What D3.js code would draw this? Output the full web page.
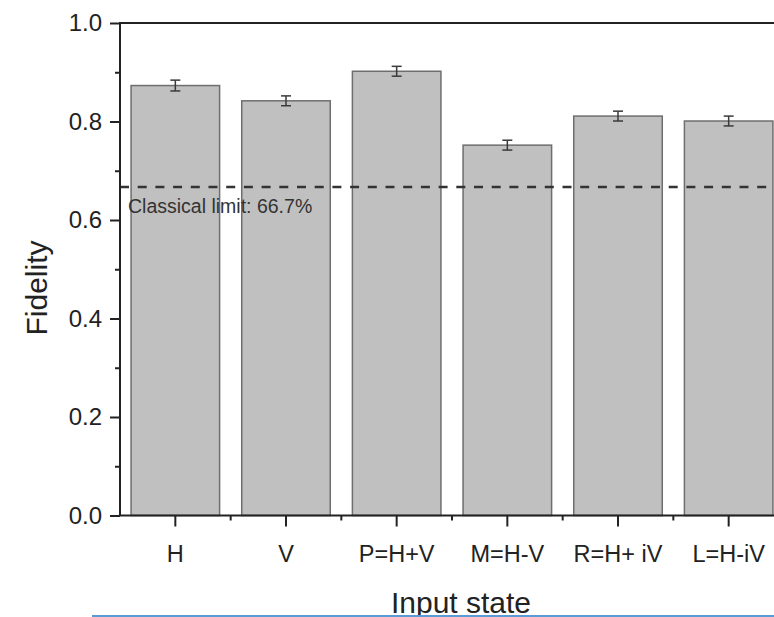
<!DOCTYPE html>
<html>
<head>
<meta charset="utf-8">
<script src="https://cdnjs.cloudflare.com/ajax/libs/d3/7.8.5/d3.min.js"></script>
<style>
  html, body { margin: 0; padding: 0; background: #fff; }
  svg { display: block; font-family: "Liberation Sans", Arial, sans-serif; }
</style>
</head>
<body>
<div id="chart"></div>
<script>
'use strict'

// data
var categories = ['H', 'V', 'P=H+V', 'M=H-V', 'R=H+ iV', 'L=H-iV']
var fidelity = [0.873, 0.842, 0.902, 0.752, 0.811, 0.801]
var fidelityErr = [0.011, 0.010, 0.010, 0.010, 0.010, 0.010]
var yTicks = [0, 0.2, 0.4, 0.6, 0.8, 1.0]
var yMinorTicks = [0.1, 0.3, 0.5, 0.7, 0.9]
var classicalLimit = 0.667

////////////////////////////////////
//////////// svg setup /////////////
////////////////////////////////////

var svgWidth = 774
var svgHeight = 617

var plot = { left: 120, top: 23, bottom: 515.5, right: 784 }

var svg = d3.select('#chart')
    .append('svg')
    .attr('width', svgWidth)
    .attr('height', svgHeight)

////////////////////////////////////
//////////////scales////////////////
////////////////////////////////////

var xScale = d3.scaleBand()
    .domain(categories)
    .range([plot.left, plot.right])
    .paddingInner(0.2)
    .paddingOuter(0.1)

var yScale = d3.scaleLinear()
    .domain([0, 1])
    .range([plot.bottom, plot.top])

var step = xScale.step()

// bars
svg.selectAll('.bar')
    .data(categories)
    .enter()
    .append('rect')
    .attr('class', 'bar')
    .attr('x', function(d) { return xScale(d) })
    .attr('y', function(d, i) { return yScale(fidelity[i]) })
    .attr('width', xScale.bandwidth())
    .attr('height', function(d, i) { return yScale(0) - yScale(fidelity[i]) })
    .attr('fill', '#c0c0c0')
    .attr('stroke', '#6e6e6e')
    .attr('stroke-width', 1.5)

// error bars
var err = svg.selectAll('.err')
    .data(categories)
    .enter()
    .append('g')
    .attr('class', 'err')
    .attr('stroke', '#3a3a3a')
    .attr('stroke-width', 1.5)

err.append('line')
    .attr('x1', function(d) { return xScale(d) + xScale.bandwidth() / 2 })
    .attr('x2', function(d) { return xScale(d) + xScale.bandwidth() / 2 })
    .attr('y1', function(d, i) { return yScale(fidelity[i] - fidelityErr[i]) })
    .attr('y2', function(d, i) { return yScale(fidelity[i] + fidelityErr[i]) })

err.selectAll('.cap')
    .data(function(d, i) {
        var cx = xScale(d) + xScale.bandwidth() / 2
        return [{ cx: cx, v: fidelity[i] - fidelityErr[i] }, { cx: cx, v: fidelity[i] + fidelityErr[i] }]
    })
    .enter()
    .append('line')
    .attr('class', 'cap')
    .attr('x1', function(d) { return d.cx - 5 })
    .attr('x2', function(d) { return d.cx + 5 })
    .attr('y1', function(d) { return yScale(d.v) })
    .attr('y2', function(d) { return yScale(d.v) })

// classical limit
svg.append('line')
    .attr('x1', plot.left)
    .attr('x2', svgWidth)
    .attr('y1', yScale(classicalLimit))
    .attr('y2', yScale(classicalLimit))
    .attr('stroke', '#333')
    .attr('stroke-width', 2.5)
    .attr('stroke-dasharray', '9,8.7')

svg.append('text')
    .attr('x', 128)
    .attr('y', yScale(classicalLimit) + 25.5)
    .attr('font-size', 19.5)
    .attr('fill', '#333')
    .text('Classical limit: 66.7%')

////////////////////////////////////
//////////////axes//////////////////
////////////////////////////////////

var yAxis = svg.append('g')
    .attr('transform', 'translate(' + plot.left + ',0)')
    .call(d3.axisLeft(yScale).tickValues(yTicks).tickFormat(d3.format('.1f'))
        .tickSize(10).tickSizeOuter(0).tickPadding(8))

svg.append('g')
    .attr('transform', 'translate(' + plot.left + ',0)')
    .call(d3.axisLeft(yScale).tickValues(yMinorTicks).tickFormat('').tickSize(5).tickSizeOuter(0))

var xAxis = svg.append('g')
    .attr('transform', 'translate(0,' + plot.bottom + ')')
    .call(d3.axisBottom(xScale).tickSize(11).tickSizeOuter(0).tickPadding(19))

// minor x ticks between categories
svg.selectAll('.xminor')
    .data(categories.slice(1))
    .enter()
    .append('line')
    .attr('class', 'xminor')
    .attr('x1', function(d) { return xScale(d) - (step - xScale.bandwidth()) / 2 })
    .attr('x2', function(d) { return xScale(d) - (step - xScale.bandwidth()) / 2 })
    .attr('y1', plot.bottom)
    .attr('y2', plot.bottom + 5)
    .attr('stroke', '#222')
    .attr('stroke-width', 2)

svg.selectAll('.tick line').attr('stroke', '#222').attr('stroke-width', 2)
svg.selectAll('.domain').attr('stroke', 'none')

yAxis.selectAll('text')
    .attr('font-size', 24)
    .attr('fill', '#222')
    .attr('font-family', '"Liberation Sans", Arial, sans-serif')

xAxis.selectAll('text')
    .attr('font-size', 23.5)
    .attr('fill', '#222')
    .attr('font-family', '"Liberation Sans", Arial, sans-serif')

// frame: left, bottom, top
svg.append('path')
    .attr('d', 'M' + svgWidth + ',' + plot.top + 'H' + plot.left + 'V' + plot.bottom + 'H' + svgWidth)
    .attr('fill', 'none')
    .attr('stroke', '#222')
    .attr('stroke-width', 2)

// axis titles
svg.append('text')
    .attr('transform', 'translate(47,288) rotate(-90)')
    .attr('text-anchor', 'middle')
    .attr('font-size', 30)
    .attr('fill', '#222')
    .text('Fidelity')

svg.append('text')
    .attr('x', 461)
    .attr('y', 613)
    .attr('text-anchor', 'middle')
    .attr('font-size', 30)
    .attr('fill', '#222')
    .text('Input state')

// thin blue rule at the bottom edge
svg.append('line')
    .attr('x1', 92)
    .attr('x2', svgWidth)
    .attr('y1', 616)
    .attr('y2', 616)
    .attr('stroke', '#5b9bd5')
    .attr('stroke-width', 2)
</script>
</body>
</html>
